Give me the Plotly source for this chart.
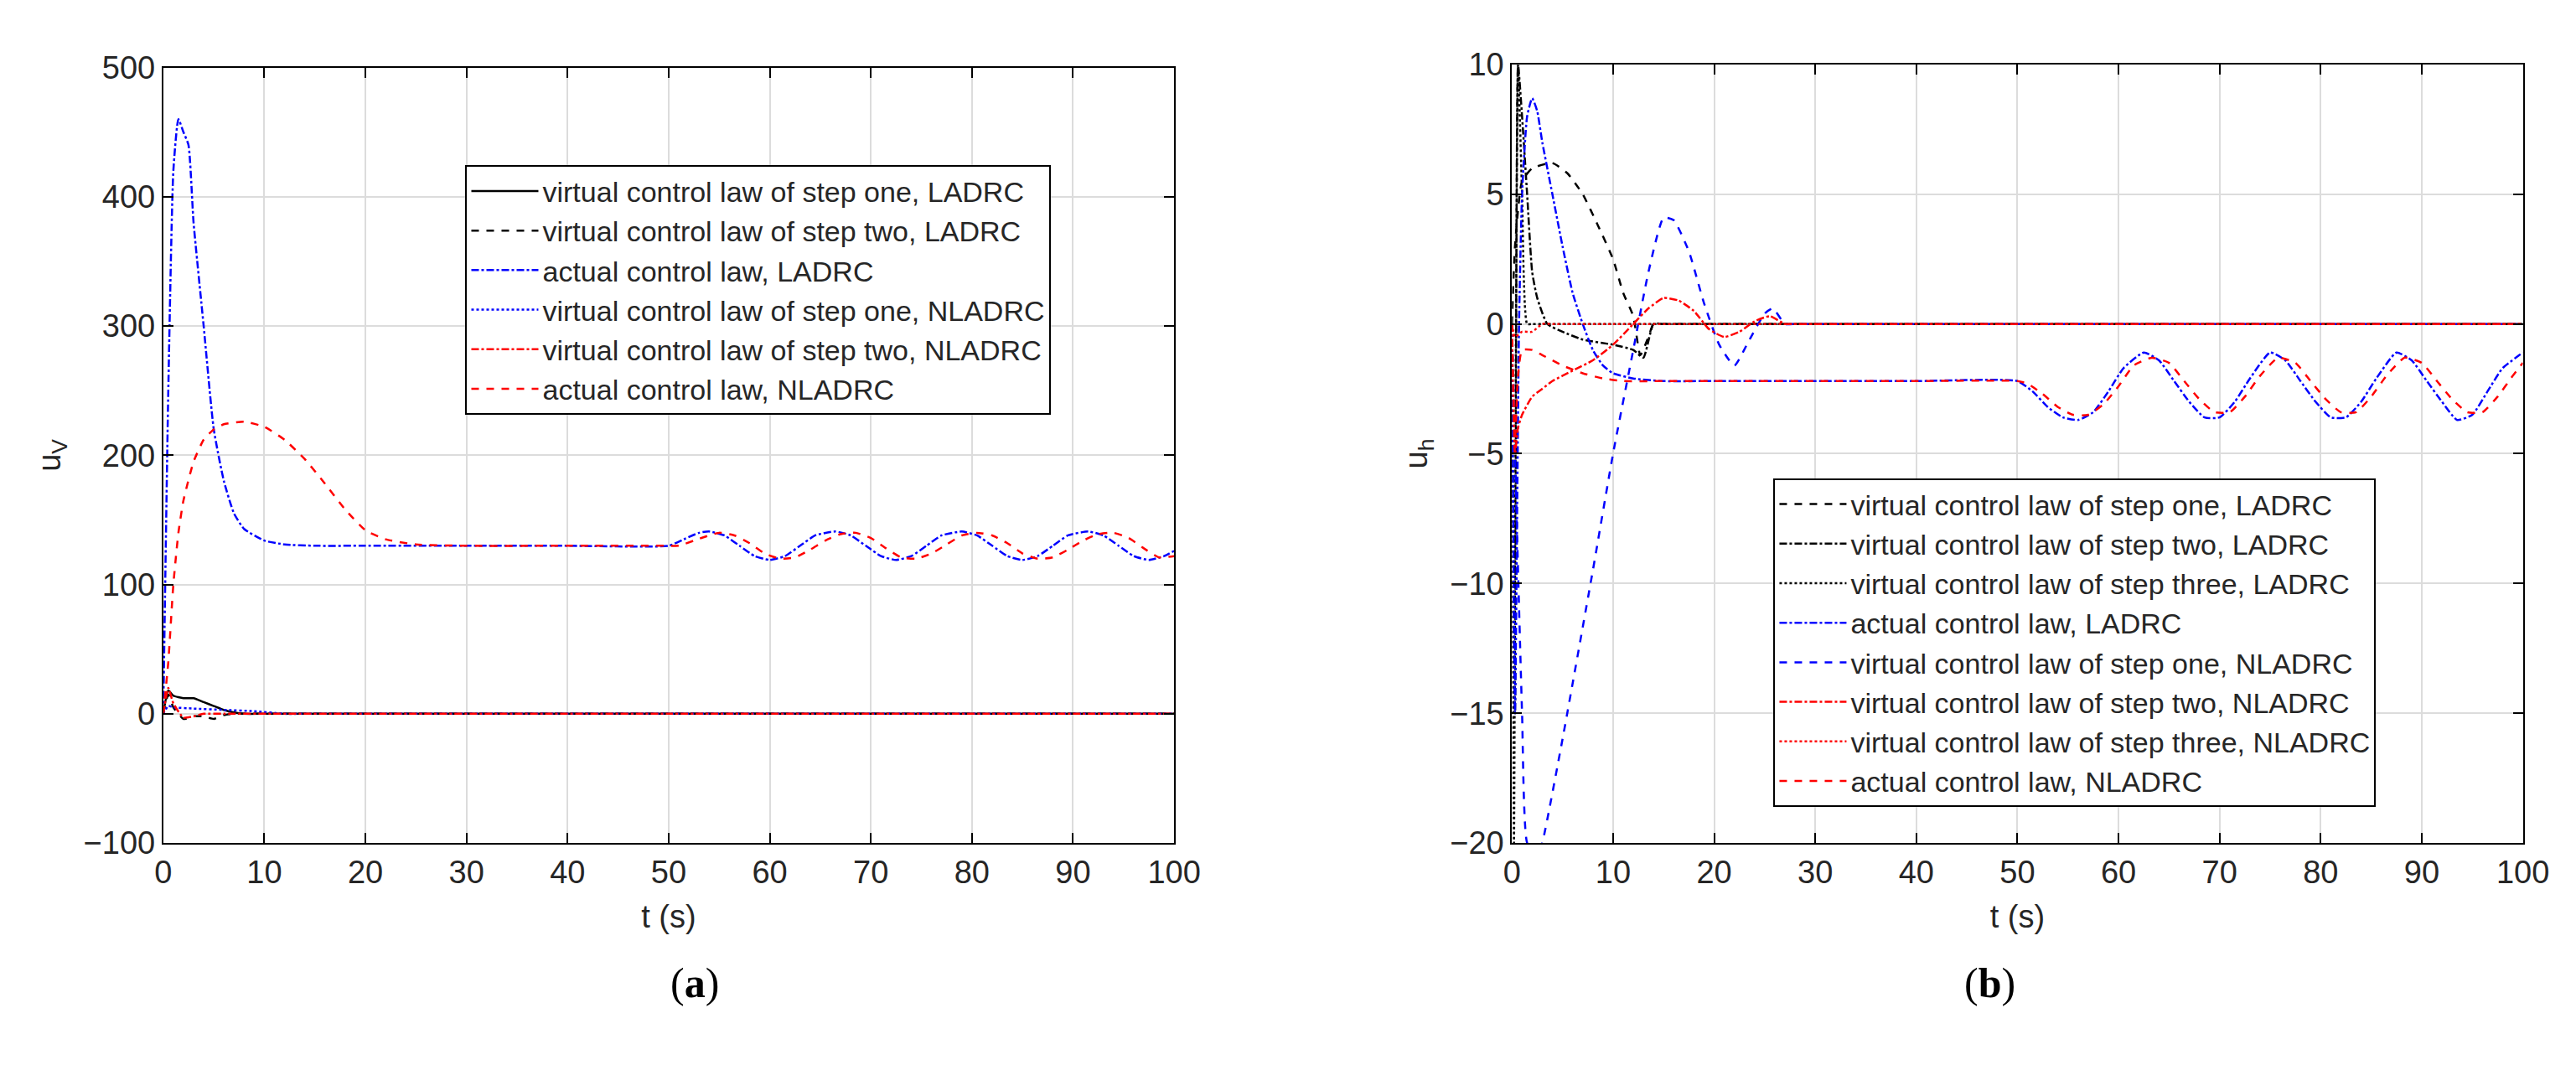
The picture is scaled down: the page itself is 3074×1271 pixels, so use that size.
import plotly.graph_objects as go

# ---------- (a) data ----------
a_s1_t = [0, 0.5, 1, 2, 3, 4, 5, 6, 7, 8, 10, 20, 50, 100]
a_s1_y = [0, 18, 14, 12, 12, 9, 6, 3, 1, 0, 0, 0, 0, 0]
a_s2_t = [0, 0.5, 1, 2, 3, 4, 5, 6, 7, 9, 20, 50, 100]
a_s2_y = [0, 15, 5, -4, -2, -2, -4, -1, 0, 0, 0, 0, 0]
a_act_t = [0, 0.5, 1, 1.5, 2, 2.5, 3, 4, 5, 6, 7, 8, 10, 12, 15, 20, 30, 40, 50, 51.5, 53, 54, 55.5, 57, 58.5, 60, 61.5, 63, 64.5, 66.5, 68, 69.5, 71, 72.5, 74, 75.5, 77, 79, 80.5, 82, 83.5, 85, 86.5, 88, 89.5, 91.5, 93, 94.5, 96, 97.5, 99, 100]
a_act_y = [0, 250, 420, 460, 450, 440, 380, 300, 220, 180, 155, 143, 134, 131, 130, 130, 130, 130, 130, 135, 140, 141, 138, 130, 122, 119, 122, 130, 138, 141, 138, 130, 122, 119, 122, 130, 138, 141, 138, 130, 122, 119, 122, 130, 138, 141, 138, 130, 122, 119, 122, 126]
a_v1n_t = [0, 0.5, 1, 3, 6, 9, 12, 14, 20, 50, 100]
a_v1n_y = [0, 6, 5, 4, 3, 2, 0, 0, 0, 0, 0]
a_v2n_t = [0, 0.5, 1, 2, 3, 4, 6, 20, 50, 100]
a_v2n_y = [0, 20, 8, -3, -2, 0, 0, 0, 0, 0]
a_actn_t = [0, 0.5, 1, 1.5, 2, 3, 4, 5, 6, 8, 10, 12, 14, 16, 18, 20, 22, 25, 30, 40, 50, 51, 52.5, 54, 55, 56.5, 58, 59.5, 61, 62.5, 64, 65.5, 67, 68.5, 70, 71.5, 73, 74.5, 76, 77.5, 79, 80.5, 82, 83.5, 85, 86.5, 88, 89.5, 91, 92.5, 94, 95.5, 97, 98.5, 100]
a_actn_y = [0, 40, 100, 140, 165, 195, 212, 220, 224, 226, 222, 212, 197, 178, 158, 142, 135, 131, 130, 130, 130, 130, 134, 138, 140, 138, 132, 124, 120, 121, 127, 134, 139, 140, 136, 128, 121, 120, 124, 131, 138, 140, 138, 132, 124, 120, 121, 127, 134, 139, 140, 136, 128, 121, 122]

# ---------- (b) data ----------
b_s1_t = [0, 0.3, 1, 2, 4, 5.5, 7, 8.5, 10, 11, 12, 12.7, 13.5, 14, 15, 17, 25, 50, 75, 100]
b_s1_y = [0, 3, 5.5, 6, 6.2, 5.8, 5, 3.8, 2.5, 1.2, 0.3, -1.2, -0.5, 0, 0, 0, 0, 0, 0, 0]
b_s2_t = [0, 0.3, 0.6, 1, 1.5, 2, 2.5, 3.5, 5, 7, 10, 12, 13, 14, 15, 17, 25, 50, 75, 100]
b_s2_y = [0, -15, 10, 8, 5, 2, 1, 0, -0.3, -0.6, -0.8, -1, -1.3, 0, 0, 0, 0, 0, 0, 0]
b_s3_t = [0, 0.2, 0.4, 0.6, 1, 1.5, 2, 3, 10, 50, 100]
b_s3_y = [0, -20, 0, 10, 5, 0, 0, 0, 0, 0, 0]
b_act_t = [0, 0.3, 0.7, 1, 1.5, 2, 2.5, 3, 4, 5, 6, 7, 8, 9, 10, 12, 15, 20, 30, 40, 50, 51.5, 53, 54.5, 56, 57.5, 59, 60.5, 62.5, 64, 65.5, 67, 68.5, 70, 71.5, 73, 75, 76.5, 78, 79.5, 81, 82.5, 84, 85.5, 87.5, 89, 90.5, 92, 93.5, 95, 96.5, 98, 100]
b_act_y = [0, -15, 0, 5, 8, 8.7, 8.2, 7, 5, 3, 1.2, 0, -1, -1.6, -1.9, -2.1, -2.2, -2.2, -2.2, -2.2, -2.2, -2.6, -3.2, -3.6, -3.7, -3.4, -2.6, -1.7, -1.1, -1.4, -2.2, -3.0, -3.6, -3.6, -3.0, -2.1, -1.1, -1.4, -2.2, -3.0, -3.6, -3.6, -3.0, -2.1, -1.1, -1.4, -2.2, -3.0, -3.7, -3.5, -2.6, -1.7, -1.1]
b_v1n_t = [0, 0.5, 1, 1.5, 2.5, 3, 5, 8, 10, 12, 13.5, 15, 16, 17.5, 19, 20.5, 22, 23.5, 25, 25.8, 27, 28, 30, 50, 75, 100]
b_v1n_y = [0, -8, -15, -20, -20.5, -20, -16, -9.5, -5, -1, 2, 4.1, 4, 2.8, 0.8, -0.8, -1.6, -0.6, 0.4, 0.6, 0, 0, 0, 0, 0, 0]
b_v2n_t = [0, 0.3, 0.6, 1, 2, 3, 4, 6, 8, 10, 12, 13.5, 15, 16.5, 18, 19.5, 21, 22.5, 24, 25.5, 27, 28, 30, 50, 75, 100]
b_v2n_y = [0, -5, -4, -3.5, -2.8, -2.5, -2.2, -1.8, -1.4, -0.8, 0, 0.6, 1.0, 0.9, 0.5, -0.2, -0.5, -0.3, 0.1, 0.3, 0, 0, 0, 0, 0, 0]
b_v3n_t = [0, 0.3, 1, 2, 3, 4, 10, 50, 100]
b_v3n_y = [0, -0.5, -0.3, -0.3, 0, 0, 0, 0, 0]
b_actn_t = [0, 0.3, 0.6, 1, 2, 3, 5, 7, 9, 11, 15, 20, 30, 40, 50, 51, 52.5, 54, 55.5, 57, 58.5, 60, 61.5, 63.3, 65, 66.5, 68, 69.5, 71, 72.5, 74, 75.8, 77.5, 79, 80.5, 82, 83.5, 85, 86.5, 88.3, 90, 91.5, 93, 94.5, 96, 97.5, 99, 100]
b_actn_y = [0, -4.5, -2, -1, -1, -1.2, -1.6, -1.9, -2.1, -2.2, -2.2, -2.2, -2.2, -2.2, -2.2, -2.3, -2.7, -3.2, -3.5, -3.5, -3.1, -2.4, -1.6, -1.3, -1.5, -2.2, -2.9, -3.4, -3.4, -2.8, -2.0, -1.3, -1.5, -2.2, -2.9, -3.4, -3.4, -2.8, -2.0, -1.3, -1.5, -2.2, -2.9, -3.4, -3.4, -2.8, -2.0, -1.5]

BLUE = "rgb(0,0,255)"
RED = "rgb(255,0,0)"
BLK = "black"

fig = go.Figure()

def add(t, y, name, color, dash, xa, ya, lg):
    fig.add_trace(go.Scatter(x=t, y=y, name=name, mode="lines", xaxis=xa, yaxis=ya,
                             legend=lg, line=dict(color=color, dash=dash, width=2.5, shape="spline", smoothing=0.5)))

add(a_s1_t, a_s1_y, "virtual control law of step one, LADRC", BLK, "solid", "x", "y", "legend")
add(a_s2_t, a_s2_y, "virtual control law of step two, LADRC", BLK, "dash", "x", "y", "legend")
add(a_act_t, a_act_y, "actual control law, LADRC", BLUE, "dashdot", "x", "y", "legend")
add(a_v1n_t, a_v1n_y, "virtual control law of step one, NLADRC", BLUE, "dot", "x", "y", "legend")
add(a_v2n_t, a_v2n_y, "virtual control law of step two, NLADRC", RED, "dashdot", "x", "y", "legend")
add(a_actn_t, a_actn_y, "actual control law, NLADRC", RED, "dash", "x", "y", "legend")

add(b_s1_t, b_s1_y, "virtual control law of step one, LADRC", BLK, "dash", "x2", "y2", "legend2")
add(b_s2_t, b_s2_y, "virtual control law of step two, LADRC", BLK, "dashdot", "x2", "y2", "legend2")
add(b_s3_t, b_s3_y, "virtual control law of step three, LADRC", BLK, "dot", "x2", "y2", "legend2")
add(b_act_t, b_act_y, "actual control law, LADRC", BLUE, "dashdot", "x2", "y2", "legend2")
add(b_v1n_t, b_v1n_y, "virtual control law of step one, NLADRC", BLUE, "dash", "x2", "y2", "legend2")
add(b_v2n_t, b_v2n_y, "virtual control law of step two, NLADRC", RED, "dashdot", "x2", "y2", "legend2")
add(b_v3n_t, b_v3n_y, "virtual control law of step three, NLADRC", RED, "dot", "x2", "y2", "legend2")
add(b_actn_t, b_actn_y, "actual control law, NLADRC", RED, "dash", "x2", "y2", "legend2")

FONT = "Liberation Sans"
ax = dict(showline=True, mirror="ticks", linecolor="black", linewidth=2, ticks="inside",
          ticklen=12, tickwidth=2, tickcolor="black", showgrid=True, gridcolor="#dcdcdc",
          gridwidth=2, zeroline=False, tickfont=dict(size=38, color="#262626"))
leg = dict(bgcolor="white", bordercolor="black", borderwidth=2, font=dict(size=34, family=FONT, color="#262626"),
           xanchor="left", yanchor="top", tracegroupgap=0, itemwidth=80)

fig.update_layout(
    width=3074, height=1271, margin=dict(l=0, r=0, t=0, b=0),
    paper_bgcolor="white", plot_bgcolor="white", font=dict(family=FONT),
    xaxis=dict(ax, domain=[0.058, 0.456], range=[0, 100], dtick=10,
               title=dict(text="t (s)", font=dict(size=38, color="#262626"), standoff=20)),
    yaxis=dict(ax, domain=[0.205, 0.958], range=[-100, 500], dtick=100,
               title=dict(text="u<sub>V</sub>", font=dict(size=38, color="#262626"), standoff=15)),
    xaxis2=dict(ax, domain=[0.589, 0.987], range=[0, 100], dtick=10, anchor="y2",
                title=dict(text="t (s)", font=dict(size=38, color="#262626"), standoff=20)),
    yaxis2=dict(ax, domain=[0.205, 0.961], range=[-20, 10], dtick=5, anchor="x2",
                title=dict(text="u<sub>h</sub>", font=dict(size=38, color="#262626"), standoff=15)),
    legend=dict(leg, x=0.177, y=0.863),
    legend2=dict(leg, x=0.692, y=0.559),
    showlegend=True,
    annotations=[
        dict(text="(<b>a</b>)", x=0.257, y=0.045, xref="paper", yref="paper", showarrow=False,
             font=dict(size=50, family="Liberation Serif", color="black")),
        dict(text="(<b>b</b>)", x=0.788, y=0.045, xref="paper", yref="paper", showarrow=False,
             font=dict(size=50, family="Liberation Serif", color="black")),
    ],
)

fig.write_html("out.html")
